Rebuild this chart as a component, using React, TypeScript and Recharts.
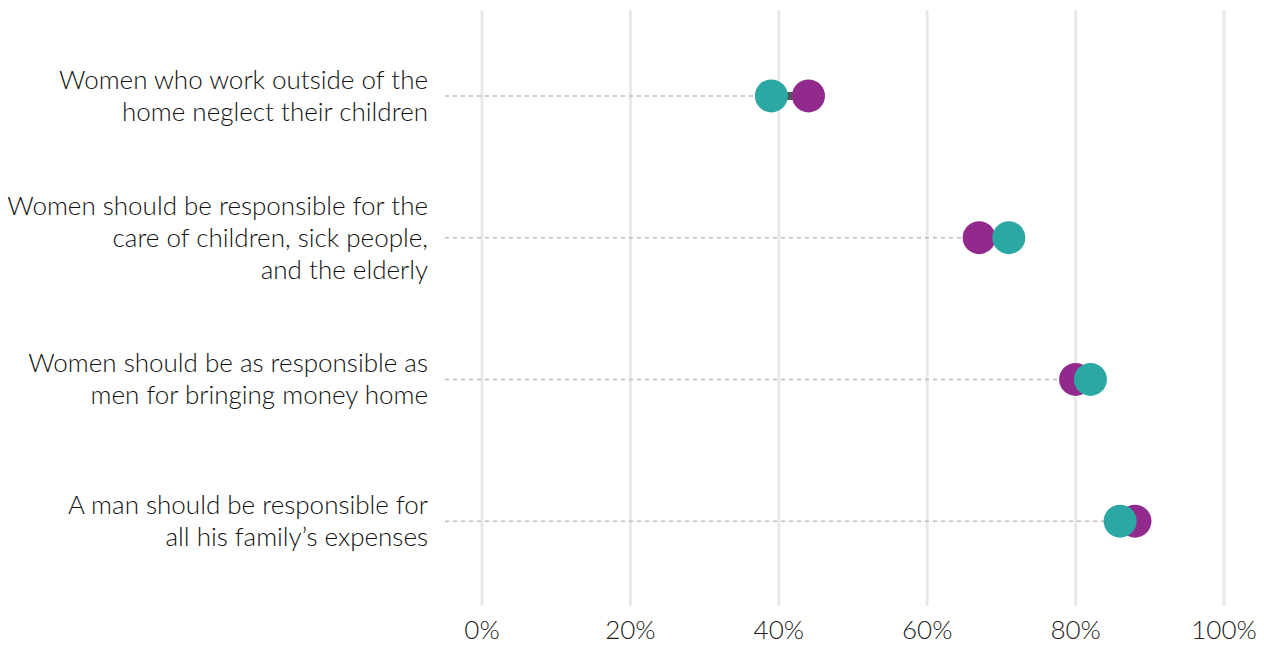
import React from "react";
import { ComposedChart, Bar, Line, XAxis, YAxis, CartesianGrid } from "recharts";

const categories = [
  "Women who work outside of the\nhome neglect their children",
  "Women should be responsible for the\ncare of children, sick people,\nand the elderly",
  "Women should be as responsible as\nmen for bringing money home",
  "A man should be responsible for\nall his family\u2019s expenses",
];
const purpleValues = [44, 67, 80, 88];
const tealValues = [39, 71, 82, 86];
const xTicks = [0, 20, 40, 60, 80, 100];

const data = categories.map((label, i) => ({
  label,
  purple: purpleValues[i],
  teal: tealValues[i],
  range: [Math.min(purpleValues[i], tealValues[i]), Math.max(purpleValues[i], tealValues[i])],
}));

const FONT = "'Lato Light', Lato, 'Noto Sans', sans-serif";
const PLOT_LEFT = 482;

const CategoryTick = (props: any) => {
  const { y, payload } = props;
  const lines = String(payload.value).split("\n");
  const lh = 32;
  const start = y - ((lines.length - 1) * lh) / 2;
  return (
    <text x={428} y={start} textAnchor="end" fontFamily={FONT} fontWeight={300} fontSize={26} fill="#111">
      {lines.map((l, i) => (
        <tspan key={i} x={428} y={start + i * lh} dy="0.35em">
          {l}
        </tspan>
      ))}
    </text>
  );
};

const RangeShape = (props: any) => {
  const { x, y, width, height } = props;
  const cy = y + height / 2;
  return (
    <g>
      <line x1={PLOT_LEFT - 37} x2={x} y1={cy} y2={cy} stroke="#bdbdbd" strokeWidth={1.5} strokeDasharray="4 4" />
      <line x1={x} x2={x + width} y1={cy} y2={cy} stroke="#555555" strokeWidth={8} />
    </g>
  );
};

export default function App() {
  return (
    <div style={{ position: "absolute", left: 0, top: 0 }}>
      <ComposedChart
        width={1264}
        height={648}
        data={data}
        layout="vertical"
        margin={{ top: 10, right: 40, bottom: 0, left: 0 }}
      >
        <CartesianGrid vertical horizontal={false} stroke="#e8e8e8" strokeWidth={3} />
        <XAxis
          type="number"
          domain={[0, 100]}
          ticks={xTicks}
          tickFormatter={(v: number) => `${v}%`}
          axisLine={false}
          tickLine={false}
          tickSize={0}
          tickMargin={15}
          height={42}
          tick={{ fontFamily: FONT, fontWeight: 300, fontSize: 26, fill: "#222" }}
        />
        <YAxis
          type="category"
          dataKey="label"
          width={482}
          axisLine={false}
          tickLine={false}
          padding={{ top: 15, bottom: 14 }}
          tick={<CategoryTick />}
        />
        <Bar dataKey="range" barSize={10} shape={<RangeShape />} isAnimationActive={false} />
        <Line
          dataKey="purple"
          stroke="none"
          strokeWidth={0}
          dot={{ r: 16.5, fill: "#922a8d", stroke: "none" }}
          activeDot={false}
          isAnimationActive={false}
        />
        <Line
          dataKey="teal"
          stroke="none"
          strokeWidth={0}
          dot={{ r: 16.5, fill: "#2ba8a3", stroke: "none" }}
          activeDot={false}
          isAnimationActive={false}
        />
      </ComposedChart>
    </div>
  );
}
